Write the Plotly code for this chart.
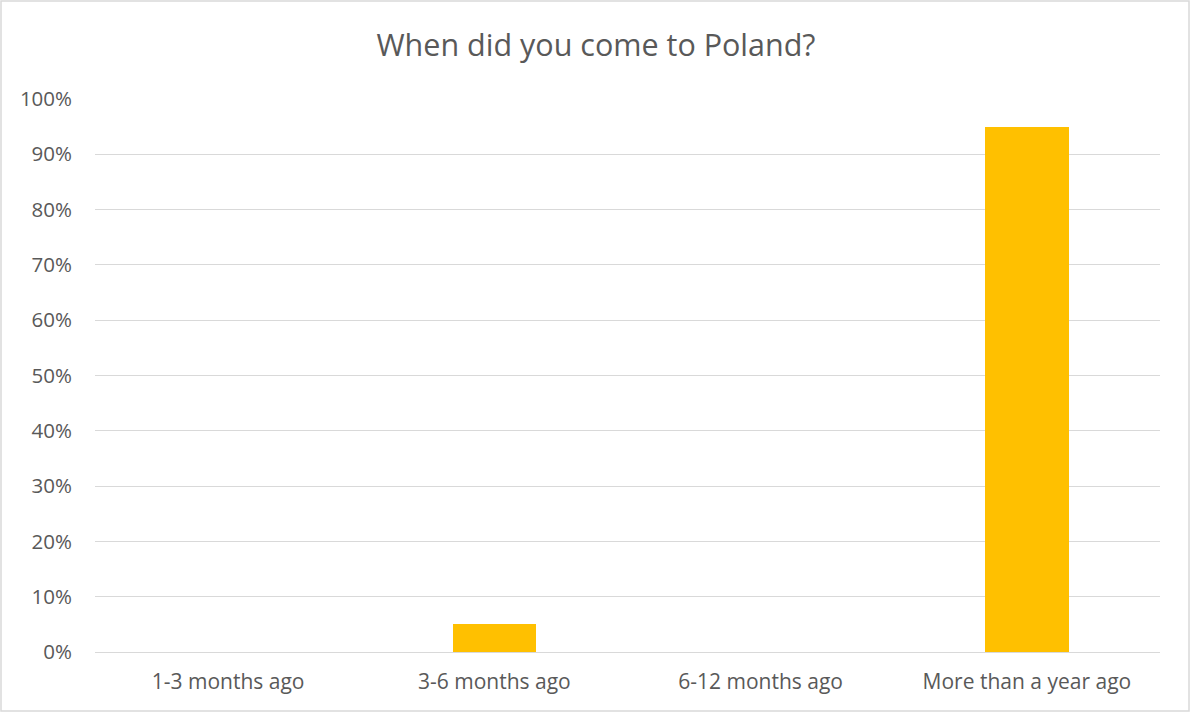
import plotly.graph_objects as go

categories = ["1-3 months ago", "3-6 months ago", "6-12 months ago", "More than a year ago"]
shares = [0, 5, 0, 95]  # percent of respondents
y_ticks = list(range(0, 101, 10))
y_tick_labels = [f"{v}%" for v in y_ticks]

BAR_COLOR = "#FFC000"
TEXT_COLOR = "#595959"
GRID_COLOR = "#D9D9D9"
FONT = "'Open Sans', Calibri, sans-serif"

W, H = 1192, 713
L, R, T, B = 95, 32, 99, 61

fig = go.Figure(
    go.Bar(
        x=categories,
        y=shares,
        marker=dict(color=BAR_COLOR, line=dict(width=0)),
        width=0.314,
        hoverinfo="x+y",
    )
)

plot_w = W - L - R
plot_h = H - T - B

fig.update_layout(
    width=W,
    height=H,
    margin=dict(l=L, r=R, t=T, b=B, pad=0),
    paper_bgcolor="white",
    plot_bgcolor="white",
    font=dict(family=FONT, color=TEXT_COLOR, size=21),
    title=dict(
        text="When did you come to Poland?",
        x=0.5,
        xanchor="center",
        y=1 - 45 / H,
        yanchor="middle",
        font=dict(size=30.5, color=TEXT_COLOR, family=FONT),
    ),
    showlegend=False,
    bargap=0,
    xaxis=dict(
        showgrid=False,
        showline=False,
        zeroline=False,
        ticks="",
        tickfont=dict(size=21, color=TEXT_COLOR),
        ticklabelstandoff=15,
    ),
    yaxis=dict(
        range=[0, 100],
        tickvals=y_ticks,
        ticktext=y_tick_labels,
        showgrid=True,
        gridcolor=GRID_COLOR,
        gridwidth=1,
        zeroline=True,
        zerolinecolor=GRID_COLOR,
        zerolinewidth=1,
        showline=False,
        ticks="",
        tickfont=dict(size=20.5, color=TEXT_COLOR),
        ticklabelstandoff=22,
    ),
    shapes=[
        dict(
            type="rect",
            xref="paper",
            yref="paper",
            x0=(1 - L) / plot_w,
            x1=(W - 3 - L) / plot_w,
            y0=(H - B - (H - 2)) / plot_h,
            y1=(H - B - 1) / plot_h,
            line=dict(color=GRID_COLOR, width=1.5),
            fillcolor="rgba(0,0,0,0)",
            layer="below",
        )
    ],
)

fig.write_html("out.html")
